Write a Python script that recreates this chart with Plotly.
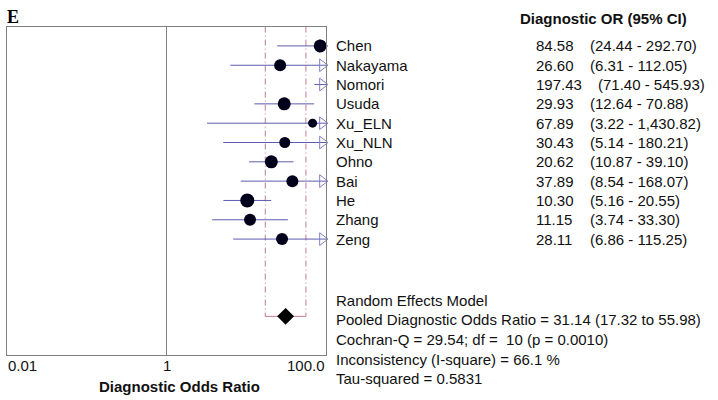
import plotly.graph_objects as go

studies = ["Chen", "Nakayama", "Nomori", "Usuda", "Xu_ELN", "Xu_NLN", "Ohno", "Bai", "He", "Zhang", "Zeng"]
dor = [84.58, 26.60, 197.43, 29.93, 67.89, 30.43, 20.62, 37.89, 10.30, 11.15, 28.11]
ci_low = [24.44, 6.31, 71.40, 12.64, 3.22, 5.14, 10.87, 8.54, 5.16, 3.74, 6.86]
ci_high = [292.70, 112.05, 545.93, 70.88, 1430.82, 180.21, 39.10, 168.07, 20.55, 33.30, 115.25]
weights = [13, 12, 12, 13, 9, 11, 13, 12, 14, 12, 12]  # marker diameters

pooled = 31.14
pooled_low = 17.32
pooled_high = 55.98
pooled_row = 15

summary_lines = [
    "Random Effects Model",
    "Pooled Diagnostic Odds Ratio = 31.14 (17.32 to 55.98)",
    "Cochran-Q = 29.54; df =  10 (p = 0.0010)",
    "Inconsistency (I-square) = 66.1 %",
    "Tau-squared = 0.5831",
]
tick_labels = ["0.01", "1", "100.0"]
tick_vals = [0.01, 1, 100]

W, H = 718, 400
X_MIN, X_MAX = 0.01, 100
rows = list(range(1, len(studies) + 1))

FONT = "Arial, Liberation Sans, sans-serif"
TXT = "#111111"
CI_COL = "#5c5cb0"
ARROW_COL = "#7f7fc8"
DASH_COL = "#c27a92"

fig = go.Figure()

# reference line at OR = 1
fig.add_trace(go.Scatter(x=[1, 1], y=[0, 17], mode="lines",
                         line=dict(color="#808080", width=1), hoverinfo="skip"))

# pooled CI dashed verticals and bracket
fig.add_trace(go.Scatter(x=[pooled_low, pooled_low, None, pooled_high, pooled_high],
                         y=[0, pooled_row, None, 0, pooled_row], mode="lines",
                         line=dict(color=DASH_COL, width=1, dash="6px,3px,1px,3px"),
                         hoverinfo="skip"))
fig.add_trace(go.Scatter(x=[pooled_low, pooled_high], y=[pooled_row, pooled_row], mode="lines",
                         line=dict(color=DASH_COL, width=1), hoverinfo="skip"))

# CI lines
cx, cy = [], []
for lo, hi, r in zip(ci_low, ci_high, rows):
    cx += [max(lo, X_MIN), min(hi, X_MAX), None]
    cy += [r, r, None]
fig.add_trace(go.Scatter(x=cx, y=cy, mode="lines", line=dict(color=CI_COL, width=1),
                         hoverinfo="skip"))

# arrows for CIs exceeding axis
ax_, ay_ = [], []
for hi, r in zip(ci_high, rows):
    if hi > X_MAX:
        ax_.append(X_MAX * 10 ** (-0.045))
        ay_.append(r)
fig.add_trace(go.Scatter(x=ax_, y=ay_, mode="markers", cliponaxis=False,
                         marker=dict(symbol="triangle-right-open", size=11, opacity=1,
                                     color=ARROW_COL, line=dict(width=1, color=ARROW_COL)),
                         hoverinfo="skip"))

# study points (those inside range)
px_, py_, ps_ = [], [], []
for d, r, s in zip(dor, rows, weights):
    if d <= X_MAX:
        px_.append(d); py_.append(r); ps_.append(s)
fig.add_trace(go.Scatter(x=px_, y=py_, mode="markers", cliponaxis=False,
                         marker=dict(symbol="circle", size=ps_, color="#00001a", opacity=1,
                                     line=dict(width=0)),
                         hoverinfo="skip"))

# pooled diamond
fig.add_trace(go.Scatter(x=[pooled], y=[pooled_row], mode="markers",
                         marker=dict(symbol="diamond", size=13, color="#000000", opacity=1),
                         hoverinfo="skip"))

ann = []
def px(v):
    return v / W
def py(v):
    return 1 - v / H

# study labels and values
for name, d, lo, hi, r in zip(studies, dor, ci_low, ci_high, rows):
    ann.append(dict(x=px(334), y=r, xref="paper", yref="y", text=name, showarrow=False,
                    xanchor="left", yanchor="middle", font=dict(size=15, family=FONT, color=TXT)))
    vs = f"{d:.2f}"
    ann.append(dict(x=px(534), y=r, xref="paper", yref="y", text=vs, showarrow=False,
                    xanchor="left", yanchor="middle", font=dict(size=15, family=FONT, color=TXT)))
    cs = f"({lo:,.2f} - {hi:,.2f})"
    cxp = 596 if len(vs) > 5 else 588
    ann.append(dict(x=px(cxp), y=r, xref="paper", yref="y", text=cs, showarrow=False,
                    xanchor="left", yanchor="middle", font=dict(size=15, family=FONT, color=TXT)))

ann.append(dict(x=px(518), y=py(18), xref="paper", yref="paper", text="<b>Diagnostic OR (95% CI)</b>",
                showarrow=False, xanchor="left", yanchor="middle",
                font=dict(size=15, family=FONT, color=TXT)))

for i, line in enumerate(summary_lines):
    ann.append(dict(x=px(334), y=py(300 + i * 19.7), xref="paper", yref="paper", text=line,
                    showarrow=False, xanchor="left", yanchor="middle",
                    font=dict(size=15, family=FONT, color=TXT)))

# tick labels
anchors = ["left", "center", "right"]
tick_px = {0.01: 6, 1: 167, 100: 327}
for lab, tv, an in zip(tick_labels, tick_vals, anchors):
    ann.append(dict(x=px(tick_px[tv]), y=py(365), xref="paper", yref="paper", text=lab,
                    showarrow=False, xanchor=an, yanchor="middle",
                    font=dict(size=15, family=FONT, color=TXT)))

ann.append(dict(x=px(179), y=py(386), xref="paper", yref="paper", text="<b>Diagnostic Odds Ratio</b>",
                showarrow=False, xanchor="center", yanchor="middle",
                font=dict(size=15, family=FONT, color=TXT)))

ann.append(dict(x=px(5), y=py(17), xref="paper", yref="paper", text="<b>E</b>",
                showarrow=False, xanchor="left", yanchor="middle",
                font=dict(size=18, family="Liberation Serif, Times New Roman, serif", color="#000000")))

fig.update_layout(
    width=W, height=H, margin=dict(l=0, r=0, t=0, b=0),
    paper_bgcolor="white", plot_bgcolor="white", showlegend=False,
    annotations=ann, hovermode=False,
    xaxis=dict(type="log", range=[-2, 2], domain=[7 / W, 326 / W], showgrid=False,
               zeroline=False, showticklabels=False, ticks="", showline=True, mirror=True,
               linecolor="#808080", linewidth=1),
    yaxis=dict(range=[17, 0], domain=[1 - 355 / H, 1 - 26.6 / H], showgrid=False,
               zeroline=False, showticklabels=False, ticks="", showline=True, mirror=True,
               linecolor="#808080", linewidth=1),
)

fig.write_html("out.html", config={"displayModeBar": False},
               post_script="document.body.style.margin='0';document.body.style.overflow='hidden';")
